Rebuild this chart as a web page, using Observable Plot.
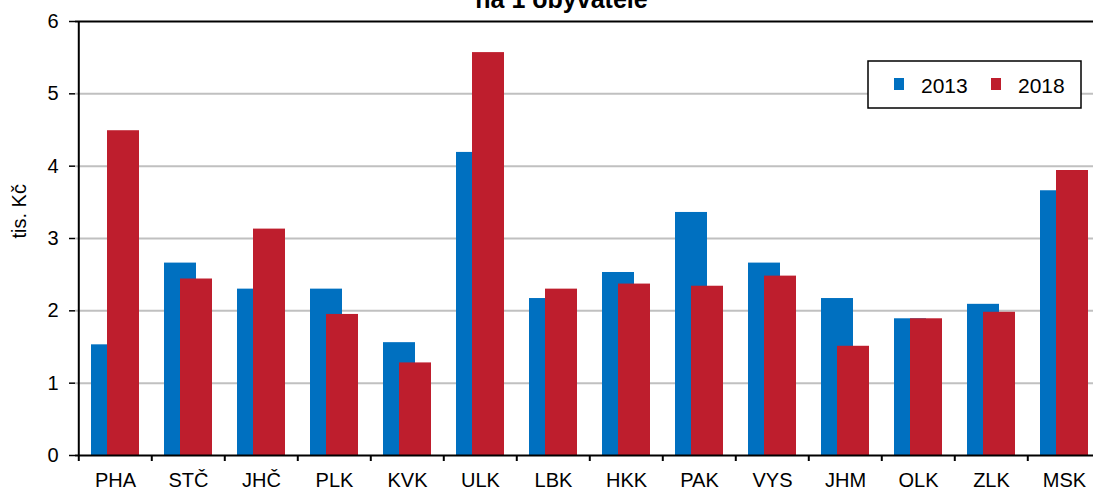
<!DOCTYPE html>
<html>
<head>
<meta charset="utf-8">
<script src="https://cdn.jsdelivr.net/npm/d3@7"></script>
<script src="https://cdn.jsdelivr.net/npm/@observablehq/plot@0.6"></script>
<style>
html, body { margin: 0; padding: 0; overflow: hidden; background: #fff; }
#wrap { position: relative; width: 1093px; height: 489px; overflow: hidden; font-family: "Liberation Sans", Arial, sans-serif; }
#legend { position: absolute; left: 867px; top: 60px; }
</style>
</head>
<body>
<div id="wrap"></div>
<script>
const regions = ["PHA","STČ","JHČ","PLK","KVK","ULK","LBK","HKK","PAK","VYS","JHM","OLK","ZLK","MSK"];
const v2013 = [1.53, 2.66, 2.30, 2.30, 1.56, 4.19, 2.17, 2.53, 3.36, 2.66, 2.17, 1.89, 2.09, 3.66];
const v2018 = [4.49, 2.44, 3.13, 1.95, 1.28, 5.57, 2.30, 2.37, 2.34, 2.48, 1.51, 1.89, 1.98, 3.94];
const years = ["2013", "2018"];
const colors = ["#0070c0", "#be1e2d"];
const yTicks = [0, 1, 2, 3, 4, 5, 6];
const gridTicks = [1, 2, 3, 4, 5];
const title = "na 1 obyvatele";
const yLabel = "tis. Kč";

const d13 = regions.map((r, i) => ({region: r, value: v2013[i]}));
const d18 = regions.map((r, i) => ({region: r, value: v2018[i]}));

const W = 1103, H = 489, mL = 75, mR = 0, mT = 21, mB = 34;
const step = (W - mL - mR) / regions.length;
const tickData = 6 * 6 / (H - mT - mB); // 6px tick length in data units

const chart = Plot.plot({
  width: W, height: H,
  marginLeft: mL, marginRight: mR, marginTop: mT, marginBottom: mB,
  style: {fontFamily: "'Liberation Sans', Arial, sans-serif", fontSize: "20px", color: "black", background: "white", maxWidth: "none", overflow: "visible"},
  x: {domain: regions, paddingInner: 0.564, paddingOuter: 0.282, label: null},
  y: {domain: [0, 6], label: null},
  marks: [
    Plot.ruleY(gridTicks, {stroke: "#c0c0c0", strokeWidth: 2}),
    Plot.barY(d13, {x: "region", y: "value", fill: colors[0], dx: -8}),
    Plot.barY(d18, {x: "region", y: "value", fill: colors[1], dx: 8}),
    Plot.ruleY([0, 6], {stroke: "black", strokeWidth: 2}),
    Plot.ruleX([regions[0]], {dx: -step / 2, stroke: "black", strokeWidth: 2}),
    Plot.ruleX(regions, {x: d => d, dx: -step / 2, y1: 0, y2: -tickData, stroke: "black", strokeWidth: 2}),
    Plot.axisY(yTicks, {tickSize: 6, tickPadding: 11, fontSize: 20, strokeWidth: 1.5, tickFormat: d3.format("d"), label: null}),
    Plot.axisX({tickSize: 0, tickPadding: 17, fontSize: 20, label: null}),
    Plot.text([title], {frameAnchor: "top", dx: -28, dy: -22, fontWeight: "bold", fontSize: 25, lineAnchor: "middle"}),
    Plot.text([yLabel], {frameAnchor: "left", dx: -56, rotate: -90, fontSize: 20, lineAnchor: "middle"})
  ]
});
const wrap = document.getElementById("wrap");
wrap.appendChild(chart);

// legend
const lg = d3.select(wrap).append("svg").attr("id", "legend")
  .attr("width", 218).attr("height", 52)
  .style("font-family", "'Liberation Sans', Arial, sans-serif");
lg.append("rect").attr("x", 1).attr("y", 1).attr("width", 213).attr("height", 47)
  .attr("fill", "white").attr("stroke", "black").attr("stroke-width", 1.5);
years.forEach((y, i) => {
  const ox = 27 + i * 97;
  lg.append("rect").attr("x", ox).attr("y", 18).attr("width", 10).attr("height", 12).attr("fill", colors[i]);
  lg.append("text").attr("x", ox + 27).attr("y", 33).attr("font-size", 21).attr("fill", "black").text(y);
});
</script>
</body>
</html>
